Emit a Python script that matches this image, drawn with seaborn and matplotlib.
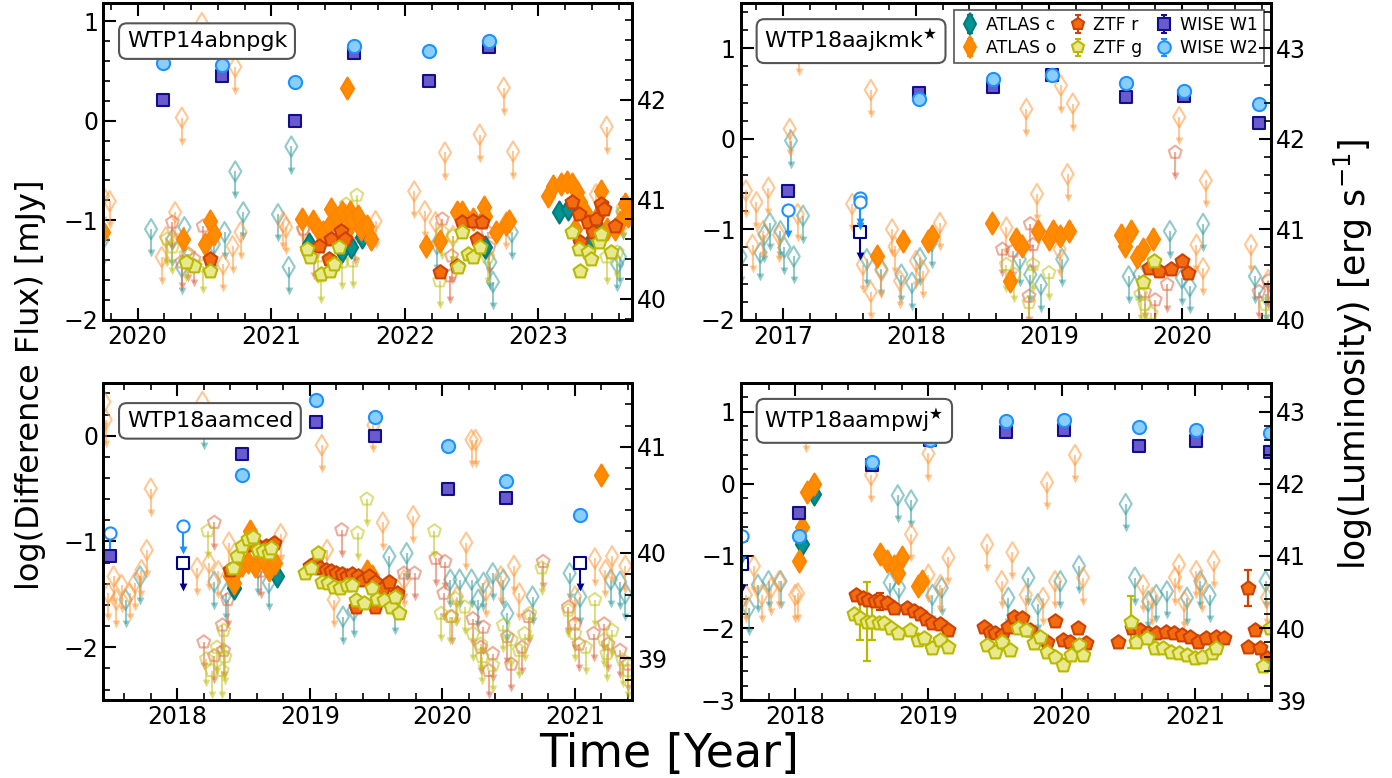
import matplotlib
matplotlib.use("Agg")
import matplotlib.pyplot as plt
from matplotlib.ticker import AutoMinorLocator, MultipleLocator, FormatStrFormatter
import seaborn as sns
import numpy as np

# ---------------- WTP14abnpgk (top left) ----------------
A_W1 = [(2020.19, 0.21), (2020.63, 0.45), (2021.18, 0.00), (2021.62, 0.68), (2022.18, 0.40), (2022.63, 0.74)]
A_W2 = [(2020.19, 0.58), (2020.63, 0.56), (2021.18, 0.39), (2021.62, 0.75), (2022.18, 0.70), (2022.63, 0.80)]
A_ATLAS_O = [(2019.74, -1.12), (2020.34, -1.19), (2020.54, -1.01), (2020.57, -1.14), (2020.50, -1.24), (2021.57, 0.33),
             (2021.23, -0.99), (2021.31, -1.01), (2021.35, -1.09), (2021.39, -1.12), (2021.45, -0.89), (2021.48, -0.99),
             (2021.53, -0.92), (2021.59, -0.92), (2021.60, -1.01), (2021.65, -0.96), (2021.67, -1.09), (2021.72, -1.06),
             (2021.75, -1.19), (2021.43, -1.06), (2021.56, -1.12),
             (2022.16, -1.26), (2022.26, -1.21), (2022.39, -0.92), (2022.43, -0.92), (2022.51, -0.99), (2022.59, -0.87),
             (2022.60, -0.96), (2022.68, -1.12), (2022.76, -1.04), (2022.78, -1.01),
             (2023.07, -0.76), (2023.11, -0.66), (2023.17, -0.64), (2023.21, -0.62), (2023.25, -0.64), (2023.29, -0.72),
             (2023.31, -0.82), (2023.35, -0.92), (2023.41, -1.12), (2023.47, -0.71), (2023.51, -1.09), (2023.57, -1.09),
             (2023.61, -1.02), (2023.65, -0.84), (2023.67, -0.96), (2023.46, -0.92), (2023.27, -1.09)]
A_ATLAS_C = [(2021.28, -1.24), (2021.53, -1.31), (2021.60, -1.27), (2021.68, -1.17), (2022.60, -1.27), (2023.15, -0.92),
             (2023.22, -0.89), (2023.38, -1.24), (2023.45, -1.09)]
A_ZTF_R = [(2020.54, -1.39), (2021.36, -1.26), (2021.45, -1.19), (2021.52, -1.11), (2021.55, -1.19), (2021.43, -1.39),
           (2022.26, -1.52), (2022.39, -1.46), (2022.43, -1.02), (2022.51, -1.01), (2022.58, -1.02), (2022.54, -1.19),
           (2023.25, -0.82), (2023.30, -0.94), (2023.37, -1.02), (2023.43, -0.99), (2023.47, -0.84), (2023.49, -0.89),
           (2023.57, -1.06), (2023.31, -1.22), (2023.41, -1.12)]
A_ZTF_G = [(2020.54, -1.51), (2020.42, -1.46), (2020.36, -1.42), (2021.29, -1.37), (2021.37, -1.54), (2021.44, -1.51),
           (2021.47, -1.44), (2021.51, -1.27), (2021.27, -1.29), (2022.40, -1.47), (2022.43, -1.12), (2022.47, -1.34),
           (2022.51, -1.37), (2022.56, -1.27), (2023.25, -1.12), (2023.30, -1.29), (2023.37, -1.32), (2023.39, -1.39),
           (2023.45, -1.22), (2023.47, -1.14), (2023.54, -1.32), (2023.31, -1.51)]
A_ATLAS_O_UL = [(2019.74, -0.76), (2019.79, -0.81), (2020.18, -1.37), (2020.21, -1.17), (2020.28, -0.92), (2020.33, 0.03),
                (2020.48, 0.98), (2020.73, 0.54), (2020.64, -1.44), (2020.71, -1.26), (2020.77, -1.12), (2021.09, -1.02),
                (2021.11, -1.07), (2021.24, -1.09), (2021.78, -1.01), (2022.07, -0.71), (2022.15, -0.91), (2022.23, -1.02),
                (2022.30, -0.32), (2022.36, -1.16), (2022.56, -0.14), (2022.74, 0.33), (2022.81, -0.31), (2023.43, -0.74),
                (2023.51, -0.06), (2023.63, -0.87), (2022.76, -1.02)]
A_ATLAS_C_UL = [(2020.10, -1.09), (2020.33, -1.47), (2020.35, -1.07), (2020.26, -1.19), (2020.57, -1.24), (2020.65, -1.12),
                (2020.73, -0.51), (2020.79, -0.92), (2019.74, -1.19), (2021.05, -0.94), (2021.15, -0.26), (2021.13, -1.47),
                (2022.24, -1.24), (2022.64, -1.42), (2022.66, -1.62), (2022.80, -1.12), (2023.59, -1.44), (2023.61, -1.37),
                (2023.63, -0.92)]
A_ZTF_R_UL = [(2020.26, -1.02), (2020.49, -1.06), (2020.33, -1.42), (2020.38, -1.34), (2020.42, -1.39), (2021.24, -1.09),
              (2021.32, -1.32), (2021.63, -1.17), (2022.28, -0.99), (2022.35, -1.36), (2022.34, -1.56), (2022.62, -1.12),
              (2022.63, -1.27)]
A_ZTF_G_UL = [(2020.22, -1.19), (2020.26, -1.27), (2020.36, -1.34), (2020.49, -1.46), (2021.64, -0.75), (2021.56, -0.84),
              (2021.35, -1.36), (2021.37, -1.56), (2021.53, -1.42), (2021.61, -1.41), (2022.28, -1.12), (2022.26, -1.61),
              (2022.36, -1.16), (2022.62, -1.37), (2023.51, -1.37), (2023.59, -1.32), (2023.63, -0.92)]

# ---------------- WTP18aajkmk (top right) ----------------
B_W1 = [(2017.04, -0.58), (2018.02, 0.51), (2018.58, 0.57), (2019.02, 0.70), (2019.58, 0.46), (2020.02, 0.47), (2020.58, 0.17)]
B_W1_UL = [(2017.58, -1.03)]
B_W2 = [(2018.02, 0.44), (2018.58, 0.66), (2019.02, 0.71), (2019.58, 0.62), (2020.02, 0.53), (2020.58, 0.38)]
B_W2_UL = [(2017.04, -0.79), (2017.58, -0.65), (2017.58, -0.70)]
B_ATLAS_O = [(2017.71, -1.30), (2017.90, -1.13), (2018.09, -1.13), (2018.12, -1.07), (2018.57, -0.93), (2018.71, -1.57),
             (2018.75, -1.11), (2018.80, -1.19), (2018.92, -1.02), (2019.00, -1.11), (2019.03, -1.02), (2019.08, -1.07),
             (2019.15, -1.02), (2019.54, -1.06), (2019.62, -1.02), (2019.57, -1.19), (2019.66, -1.31), (2019.71, -1.22),
             (2019.78, -1.11)]
B_ATLAS_C = []
B_ZTF_R = [(2019.75, -1.43), (2019.83, -1.46), (2019.92, -1.44), (2020.00, -1.35), (2020.05, -1.48)]
B_ZTF_G = [(2019.79, -1.35), (2019.71, -1.58)]
B_ATLAS_O_UL = [(2016.72, -0.57), (2016.80, -0.70), (2016.89, -0.54), (2016.77, -1.17), (2016.85, -1.02), (2016.97, -1.06),
                (2017.05, 0.11), (2017.12, 1.00), (2017.11, -0.83), (2017.52, -0.72), (2017.60, -1.39), (2017.66, 0.54),
                (2017.66, -1.69), (2017.74, -1.46), (2017.82, -1.00), (2017.84, -1.19), (2017.88, -1.57), (2018.00, -1.35),
                (2018.05, -1.46), (2018.18, -0.93), (2018.68, -0.98), (2018.83, 0.33), (2018.91, -0.61), (2019.09, 0.59),
                (2019.14, -0.39), (2019.18, 0.39), (2019.98, 0.24), (2020.18, -0.46), (2020.11, -1.17), (2020.16, -1.43),
                (2020.52, -1.17), (2020.65, -1.56), (2019.08, -1.22)]
B_ATLAS_C_UL = [(2016.68, -1.30), (2016.83, -1.26), (2016.86, -1.06), (2016.90, -0.93), (2016.98, -1.02), (2017.01, -1.20),
                (2017.06, -0.02), (2017.08, -1.30), (2017.15, -0.85), (2017.63, -1.33), (2017.74, -1.44), (2017.89, -1.50),
                (2017.97, -1.59), (2018.03, -1.32), (2018.12, -1.13), (2018.78, -1.33), (2018.86, -1.50), (2018.94, -1.61),
                (2019.10, -1.33), (2019.60, -1.52), (2019.68, -1.50), (2019.91, -1.02), (2020.00, -1.54), (2020.06, -1.63),
                (2020.16, -0.94), (2020.55, -1.52), (2020.63, -1.72)]
B_ZTF_R_UL = [(2018.65, -1.22), (2018.73, -1.24), (2018.86, -0.94), (2018.88, -1.17), (2018.85, -1.74), (2019.95, -0.15),
              (2019.89, -1.61), (2019.80, -1.78), (2019.72, -1.69), (2020.58, -1.69), (2020.65, -1.57)]
B_ZTF_G_UL = [(2018.68, -1.39), (2018.74, -1.50), (2018.88, -1.39), (2018.85, -1.81), (2019.00, -1.48), (2019.69, -1.72),
              (2019.72, -1.83), (2019.77, -1.93), (2020.63, -1.83)]

# ---------------- WTP18aamced (bottom left) ----------------
C_W1 = [(2017.49, -1.14), (2018.49, -0.17), (2019.05, 0.13), (2019.49, 0.00), (2020.04, -0.50), (2020.48, -0.59)]
C_W1_UL = [(2018.04, -1.20), (2021.04, -1.20)]
C_W2 = [(2018.49, -0.37), (2019.05, 0.34), (2019.49, 0.18), (2020.04, -0.10), (2020.48, -0.43), (2021.04, -0.75)]
C_W2_UL = [(2017.49, -0.92), (2018.04, -0.85)]
C_ATLAS_O = [(2018.40, -1.33), (2018.44, -1.28), (2018.49, -1.22), (2018.53, -1.19), (2018.55, -0.90), (2018.59, -1.23),
             (2018.65, -1.17), (2018.69, -1.27), (2018.74, -1.20), (2018.43, -1.39), (2019.43, -1.28), (2019.47, -1.33),
             (2021.20, -0.37)]
C_ATLAS_C = [(2018.43, -1.44), (2018.75, -1.33)]
C_ZTF_R = [(2018.40, -1.27), (2018.53, -1.03), (2018.61, -1.04), (2018.67, -1.04), (2018.73, -1.01),
           (2019.00, -1.23), (2019.04, -1.20), (2019.08, -1.25), (2019.12, -1.27), (2019.16, -1.28), (2019.20, -1.30),
           (2019.24, -1.31), (2019.28, -1.33), (2019.32, -1.31), (2019.36, -1.33), (2019.40, -1.36), (2019.45, -1.33),
           (2019.49, -1.38), (2019.55, -1.44), (2019.60, -1.38), (2019.66, -1.49), (2019.35, -1.62), (2019.49, -1.62)]
C_ZTF_G = [(2018.42, -1.25), (2018.45, -1.14), (2018.49, -1.04), (2018.53, -0.98), (2018.57, -0.96), (2018.61, -1.08),
           (2018.65, -1.09), (2018.69, -1.11), (2018.71, -1.06),
           (2018.96, -1.30), (2019.01, -1.25), (2019.06, -1.11), (2019.09, -1.38), (2019.14, -1.39), (2019.18, -1.43),
           (2019.23, -1.44), (2019.28, -1.41), (2019.32, -1.41), (2019.35, -1.55), (2019.41, -1.58), (2019.47, -1.44),
           (2019.51, -1.54), (2019.56, -1.55), (2019.61, -1.62), (2019.64, -1.52), (2019.67, -1.68)]
C_ATLAS_O_UL = [(2017.45, 0.32), (2017.46, 0.15), (2017.48, -1.49), (2017.52, -1.33), (2017.54, -1.55), (2017.58, -1.41),
                (2017.64, -1.49), (2017.68, -1.39), (2017.73, -1.27), (2017.77, -1.08), (2017.80, -0.50), (2018.15, -1.25),
                (2018.19, 0.32), (2018.24, -1.20), (2018.31, -1.28), (2018.39, -1.01), (2018.78, -0.93), (2019.09, -0.09),
                (2019.13, -1.08), (2019.18, -1.55), (2019.48, 0.10), (2019.55, -0.82), (2019.78, -0.76), (2020.18, -1.01),
                (2020.22, -0.04), (2020.25, -0.04), (2020.44, -1.33), (2020.54, -1.23), (2021.15, -1.16), (2021.23, -1.27),
                (2021.28, -1.14), (2021.38, -1.23), (2021.00, -1.52), (2020.33, -1.46), (2020.11, -1.52), (2019.71, -1.36),
                (2020.58, -1.49)]
C_ATLAS_C_UL = [(2017.61, -1.55), (2017.72, -1.33), (2018.20, 0.13), (2018.28, -1.38), (2018.37, -1.49), (2018.61, -1.25),
                (2018.69, -1.39), (2019.25, -1.71), (2019.33, -1.65), (2019.60, -1.14), (2019.64, -1.62), (2019.73, -1.11),
                (2020.06, -1.36), (2020.13, -1.36), (2020.22, -1.36), (2020.31, -1.39), (2020.38, -1.30), (2020.46, -1.36),
                (2020.68, -1.52), (2020.96, -1.30), (2021.04, -1.52), (2021.27, -1.36), (2021.34, -1.38), (2021.38, -1.49),
                (2020.27, -1.55), (2020.49, -1.68)]
C_ZTF_R_UL = [(2018.20, -1.95), (2018.28, -0.82), (2018.28, -2.08), (2018.34, -1.79), (2018.35, -2.03), (2018.38, -1.55),
              (2018.63, -1.28), (2019.24, -0.89), (2019.71, -1.30), (2019.79, -1.30), (2019.95, -1.16), (2020.02, -1.19),
              (2020.01, -1.49), (2020.07, -1.71), (2020.23, -1.73), (2020.31, -1.81), (2020.38, -2.06), (2020.49, -1.90),
              (2020.52, -2.16), (2020.60, -2.00), (2020.65, -1.71), (2020.76, -1.19), (2020.95, -1.62), (2021.00, -1.78),
              (2021.03, -1.97), (2021.14, -1.87), (2021.22, -1.78), (2021.25, -1.97), (2021.34, -2.03), (2021.40, -2.16),
              (2020.35, -2.22), (2020.29, -2.00)]
C_ZTF_G_UL = [(2018.22, -2.11), (2018.23, -0.90), (2018.26, -2.22), (2018.30, -2.00), (2018.34, -2.22), (2018.36, -2.09),
              (2018.35, -1.84), (2019.36, -0.92), (2019.43, -0.60), (2019.94, -0.90), (2019.99, -1.68), (2020.06, -1.71),
              (2020.10, -1.54), (2020.17, -1.62), (2020.23, -1.87), (2020.29, -1.97), (2020.30, -2.09), (2020.38, -2.17),
              (2020.46, -1.79), (2020.52, -1.93), (2020.58, -2.03), (2020.62, -1.87), (2020.66, -1.68), (2020.75, -1.25),
              (2020.95, -1.65), (2021.00, -1.87), (2021.08, -2.00), (2021.15, -1.55), (2021.22, -1.93), (2021.28, -1.84),
              (2021.36, -2.12), (2021.40, -2.22), (2021.24, -2.06)]

# ---------------- WTP18aampwj (bottom right) ----------------
D_W1 = [(2018.03, -0.41), (2018.58, 0.26), (2019.01, 0.60), (2019.58, 0.72), (2020.02, 0.75), (2020.58, 0.53),
        (2021.01, 0.59), (2021.56, 0.44)]
D_W1_UL = [(2017.60, -1.11)]
D_W2 = [(2018.03, -0.73), (2018.58, 0.30), (2019.01, 0.61), (2019.58, 0.87), (2020.02, 0.89), (2020.58, 0.79),
        (2021.01, 0.75), (2021.56, 0.70)]
D_W2_UL = [(2017.60, -0.72)]
D_ATLAS_O = [(2018.03, -1.07), (2018.05, -0.60), (2018.09, -0.12), (2018.14, 0.00), (2018.64, -0.98), (2018.69, -1.07),
             (2018.74, -1.14), (2018.77, -1.23), (2018.80, -1.02), (2018.92, -1.42), (2018.95, -1.35)]
D_ATLAS_C = [(2018.05, -0.84), (2018.14, -0.14)]
D_ZTF_R = [(2018.46, -1.54), (2018.51, -1.58), (2018.55, -1.61), (2018.60, -1.63), (2018.64, -1.63), (2018.69, -1.65),
           (2018.74, -1.72), (2018.84, -1.72), (2018.89, -1.77), (2018.94, -1.81), (2018.98, -1.88), (2019.03, -1.93),
           (2019.09, -1.95), (2019.15, -2.02),
           (2019.42, -1.98), (2019.46, -2.05), (2019.50, -2.07), (2019.55, -2.09), (2019.60, -1.98), (2019.64, -1.84),
           (2019.70, -1.86), (2019.76, -2.02), (2019.82, -2.14), (2019.89, -2.19), (2019.95, -1.90), (2020.01, -2.16),
           (2020.06, -2.19), (2020.12, -2.00), (2020.18, -2.21),
           (2020.42, -2.19), (2020.53, -2.00), (2020.59, -2.03), (2020.65, -2.07), (2020.71, -2.07), (2020.78, -2.05),
           (2020.84, -2.07), (2020.90, -2.09), (2020.96, -2.12), (2021.02, -2.19), (2021.08, -2.14), (2021.16, -2.12),
           (2021.22, -2.14),
           (2021.40, -1.44), (2021.45, -2.02), (2021.40, -2.26), (2021.49, -2.28), (2021.54, -2.42)]
D_ZTF_G = [(2018.44, -1.81), (2018.49, -1.86), (2018.54, -1.91), (2018.58, -1.91), (2018.63, -1.93), (2018.67, -1.93),
           (2018.72, -2.00), (2018.77, -2.07), (2018.86, -2.02), (2018.92, -2.16), (2018.97, -2.14), (2019.03, -2.28),
           (2019.09, -2.16), (2019.15, -2.26),
           (2019.44, -2.23), (2019.50, -2.33), (2019.55, -2.19), (2019.61, -2.30), (2019.67, -2.00), (2019.73, -2.02),
           (2019.79, -2.21), (2019.84, -2.12), (2019.89, -2.33), (2019.95, -2.40), (2020.01, -2.51), (2020.07, -2.37),
           (2020.13, -2.23), (2020.16, -2.37),
           (2020.52, -1.91), (2020.56, -2.19), (2020.64, -2.14), (2020.70, -2.28), (2020.76, -2.28), (2020.82, -2.33),
           (2020.88, -2.35), (2020.94, -2.37), (2021.00, -2.42), (2021.05, -2.40), (2021.13, -2.35), (2021.16, -2.28),
           (2021.51, -2.53), (2021.56, -2.00)]
# points whose error bars are large enough to see: (year, flux, error)
D_ZTF_R_ERR = [(2021.40, -1.44, 0.25), (2018.64, -1.63, 0.12)]
D_ZTF_G_ERR = [(2018.49, -1.86, 0.30), (2018.54, -1.91, 0.55), (2018.58, -1.91, 0.25), (2020.52, -1.91, 0.36)]
D_ATLAS_O_UL = [(2017.63, -1.54), (2017.69, -1.14), (2017.75, -1.54), (2017.82, -1.44), (2017.88, -1.35), (2018.00, -1.54),
                (2018.02, -1.52), (2018.08, 0.81), (2018.57, 0.12), (2018.87, -0.70), (2019.00, 0.42), (2019.00, -1.26),
                (2019.09, -1.40), (2019.15, -1.02), (2019.44, -0.84), (2019.55, -1.35), (2019.63, -0.95), (2019.73, -1.54),
                (2019.86, -1.58), (2019.89, 0.02), (2019.95, -1.35), (2020.10, 0.40), (2020.16, -1.30), (2020.61, -1.40),
                (2020.68, -1.58), (2020.88, -1.12), (2020.85, -1.30), (2021.01, -1.21), (2021.14, -1.07), (2020.92, -1.63),
                (2021.05, -1.40), (2021.54, -1.58)]
D_ATLAS_C_UL = [(2017.65, -1.72), (2017.72, -1.40), (2017.80, -1.35), (2017.89, -1.35), (2018.71, -1.37), (2018.77, -0.16),
                (2018.78, -1.44), (2018.87, -0.23), (2019.03, -1.54), (2019.10, -1.44), (2019.60, -1.58), (2019.75, -1.30),
                (2019.82, -1.67), (2019.99, -1.35), (2020.13, -1.14), (2020.48, -0.28), (2020.55, -1.30), (2020.65, -1.63),
                (2020.71, -1.54), (2020.79, -1.49), (2020.94, -1.58), (2021.04, -1.35), (2021.11, -1.54), (2021.53, -1.35)]

PANEL_NAMES = ["WTP14abnpgk", "WTP18aajkmk$^{\\bigstar}$", "WTP18aamced", "WTP18aampwj$^{\\bigstar}$"]

# one entry per panel: (detections, upper limits) keyed by survey band
PANEL_DATA = [
    ({"ATLAS c": A_ATLAS_C, "ATLAS o": A_ATLAS_O, "ZTF r": A_ZTF_R, "ZTF g": A_ZTF_G, "WISE W1": A_W1, "WISE W2": A_W2},
     {"ATLAS c": A_ATLAS_C_UL, "ATLAS o": A_ATLAS_O_UL, "ZTF r": A_ZTF_R_UL, "ZTF g": A_ZTF_G_UL}),
    ({"ATLAS c": B_ATLAS_C, "ATLAS o": B_ATLAS_O, "ZTF r": B_ZTF_R, "ZTF g": B_ZTF_G, "WISE W1": B_W1, "WISE W2": B_W2},
     {"ATLAS c": B_ATLAS_C_UL, "ATLAS o": B_ATLAS_O_UL, "ZTF r": B_ZTF_R_UL, "ZTF g": B_ZTF_G_UL,
      "WISE W1": B_W1_UL, "WISE W2": B_W2_UL}),
    ({"ATLAS c": C_ATLAS_C, "ATLAS o": C_ATLAS_O, "ZTF r": C_ZTF_R, "ZTF g": C_ZTF_G, "WISE W1": C_W1, "WISE W2": C_W2},
     {"ATLAS c": C_ATLAS_C_UL, "ATLAS o": C_ATLAS_O_UL, "ZTF r": C_ZTF_R_UL, "ZTF g": C_ZTF_G_UL,
      "WISE W1": C_W1_UL, "WISE W2": C_W2_UL}),
    ({"ATLAS c": D_ATLAS_C, "ATLAS o": D_ATLAS_O, "ZTF r": D_ZTF_R, "ZTF g": D_ZTF_G, "WISE W1": D_W1, "WISE W2": D_W2},
     {"ATLAS c": D_ATLAS_C_UL, "ATLAS o": D_ATLAS_O_UL, "WISE W1": D_W1_UL, "WISE W2": D_W2_UL}),
]
ERRBARS = [{}, {}, {}, {"ZTF r": D_ZTF_R_ERR, "ZTF g": D_ZTF_G_ERR}]

# axes layout and ranges
RECTS = [[0.074, 0.589, 0.380, 0.407], [0.532, 0.589, 0.381, 0.407],
         [0.074, 0.100, 0.380, 0.408], [0.532, 0.100, 0.381, 0.408]]
XLIMS = [(2019.74, 2023.70), (2016.68, 2020.67), (2017.44, 2021.43), (2017.59, 2021.57)]
YLIMS = [(-2.0, 1.18), (-2.0, 1.5), (-2.5, 0.5), (-3.0, 1.4)]
LUM_OFFSET = [41.79, 42.0, 41.105, 42.0]

STYLE = {
    "ATLAS c": dict(marker="d", face="#009494", edge="#007a7a", ul="#3a9ea0", s=125),
    "ATLAS o": dict(marker="d", face="#ff8c00", edge="#ff8400", ul="#ff9a3c", s=125),
    "ZTF r":   dict(marker="p", face="#f46a0e", edge="#cc4200", ul="#de6a48", s=110),
    "ZTF g":   dict(marker="p", face="#e9e88c", edge="#b9b900", ul="#c2c21a", s=110),
    "WISE W1": dict(marker="s", face="#6a5acd", edge="#10108a", ul="#00008b", s=85),
    "WISE W2": dict(marker="o", face="#87cefa", edge="#1e90ff", ul="#1e90ff", s=90),
}
ORDER = ["ATLAS c", "ATLAS o", "ZTF r", "ZTF g", "WISE W1", "WISE W2"]
Z = {"ATLAS c": 4, "ATLAS o": 4, "ZTF r": 5, "ZTF g": 5, "WISE W1": 6, "WISE W2": 7}

sns.set_theme(style="ticks")
plt.rcParams.update({
    "font.family": ["DejaVu Sans"],
    "text.color": "black", "axes.labelcolor": "black",
    "xtick.direction": "in", "ytick.direction": "in",
    "xtick.major.size": 9, "ytick.major.size": 9,
    "xtick.minor.size": 5, "ytick.minor.size": 5,
    "xtick.major.width": 1.5, "ytick.major.width": 1.5,
    "xtick.minor.width": 1.2, "ytick.minor.width": 1.2,
    "xtick.labelsize": 17, "ytick.labelsize": 17,
    "xtick.labelcolor": "black", "ytick.labelcolor": "black",
    "axes.linewidth": 2.0,
    "axes.edgecolor": "black",
    "xtick.color": "black", "ytick.color": "black",
})

fig = plt.figure(figsize=(13.92, 7.78), dpi=100)


def draw_limits(ax, pts, st, arrow, wise):
    if not pts:
        return
    x, y = np.array(pts).T
    alpha = 1.0 if wise else 0.55
    ax.errorbar(x, y, yerr=[np.full_like(y, arrow), np.zeros_like(y)], fmt="none",
                ecolor=st["ul"], elinewidth=1.5, alpha=alpha, zorder=2 + wise)
    ax.scatter(x, y - arrow, marker="v", s=32, color=st["ul"], alpha=alpha, linewidths=0, zorder=2 + wise)
    ax.scatter(x, y, marker=st["marker"], s=st["s"] * 0.85,
               facecolors="white" if wise else "none", edgecolors=st["ul"],
               linewidths=1.5, alpha=alpha, zorder=2 + wise)


for i, rect in enumerate(RECTS):
    ax = fig.add_axes(rect)
    det, ul = PANEL_DATA[i]
    y0, y1 = YLIMS[i]
    arrow = 0.076 * (y1 - y0)
    for name in ORDER:
        st = STYLE[name]
        draw_limits(ax, ul.get(name, []), st, arrow, name.startswith("WISE"))
    for name in ORDER:
        st = STYLE[name]
        for x, y, e in ERRBARS[i].get(name, []):
            ax.errorbar([x], [y], yerr=[e], fmt="none", ecolor=st["edge"], elinewidth=1.6,
                        capsize=3, capthick=1.6, zorder=Z[name] - 0.5)
        pts = det.get(name, [])
        if pts:
            x, y = np.array(pts).T
            sns.scatterplot(x=x, y=y, ax=ax, marker=st["marker"], s=st["s"], color=st["face"],
                            edgecolor=st["edge"], linewidth=1.5, zorder=Z[name], legend=False)
    ax.set_xlim(*XLIMS[i])
    ax.set_ylim(y0, y1)
    ax.xaxis.set_major_locator(MultipleLocator(1))
    ax.xaxis.set_major_formatter(FormatStrFormatter("%d"))
    ax.xaxis.set_minor_locator(AutoMinorLocator(5))
    ax.yaxis.set_major_locator(MultipleLocator(1))
    ax.yaxis.set_minor_locator(AutoMinorLocator(5))
    ax.tick_params(which="both", top=True, right=False, left=True, bottom=True)
    ax.set_xlabel("")
    ax.set_ylabel("")
    for sp in ax.spines.values():
        sp.set_linewidth(2.0)

    ax.text(0.045, 0.88, PANEL_NAMES[i], transform=ax.transAxes, fontsize=16, ha="left", va="center",
            zorder=20, bbox=dict(boxstyle="round,pad=0.35", facecolor="white", edgecolor="#555555", linewidth=1.5))

    tw = ax.twinx()
    tw.set_ylim(y0 + LUM_OFFSET[i], y1 + LUM_OFFSET[i])
    tw.yaxis.set_major_locator(MultipleLocator(1))
    tw.yaxis.set_major_formatter(FormatStrFormatter("%d"))
    tw.yaxis.set_minor_locator(AutoMinorLocator(5))
    tw.tick_params(which="both", direction="in", right=True, left=False, top=False, bottom=False)
    for sp in tw.spines.values():
        sp.set_linewidth(2.0)

    if i == 1:
        handles = []
        for name in ORDER:
            st = STYLE[name]
            h = ax.errorbar([np.nan], [np.nan], yerr=[0.1], fmt=st["marker"], ms=9 if st["marker"] != "d" else 11,
                            mfc=st["face"], mec=st["edge"], mew=1.5, ecolor=st["edge"], elinewidth=1.5,
                            capsize=2.5, label=name)
            handles.append(h)
        leg = ax.legend(handles=handles, ncol=3, loc="upper right", fontsize=12.5, frameon=True,
                        fancybox=False, edgecolor="#555555", framealpha=1, handletextpad=0.35,
                        columnspacing=0.7, borderpad=0.35, labelspacing=0.3, handlelength=1.1,
                        borderaxespad=0.4)
        leg.get_frame().set_linewidth(1.2)
        leg.set_zorder(30)

fig.text(0.022, 0.505, "log(Difference Flux) [mJy]", rotation=90, ha="center", va="center", fontsize=23)
fig.text(0.972, 0.545, "log(Luminosity) [erg s$^{-1}$]", rotation=90, ha="center", va="center", fontsize=25)
fig.text(0.481, 0.03, "Time [Year]", ha="center", va="center", fontsize=33)

fig.savefig("out.png", dpi=100)
